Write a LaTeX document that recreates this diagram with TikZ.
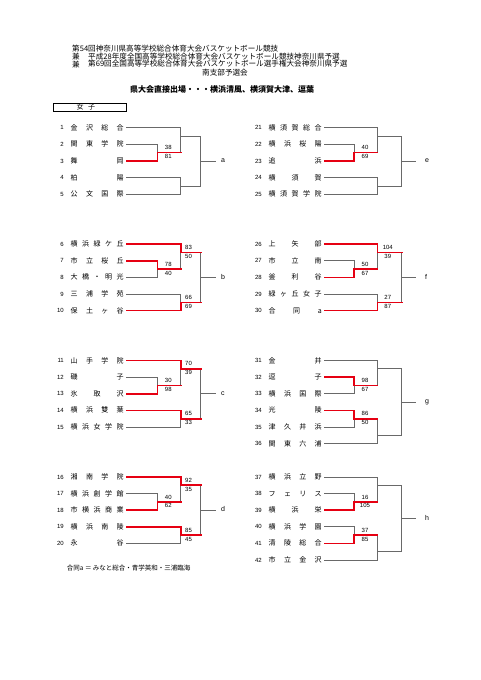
\documentclass[tikz,border=0pt]{standalone}
\usepackage{fontspec}
\setmainfont{Noto Sans CJK JP}
\newfontfamily\latf{Liberation Sans}
\usetikzlibrary{calc}
\definecolor{rd}{RGB}{230,0,18}
\definecolor{gy}{RGB}{105,105,105}
\newcommand\RY[1]{127.7+16.63*(#1)}
\newcommand\team[4]{%
  \node[numst] (n#1) at ({#2-4},{\RY{#3}}) {#1};
  \node[namest] (t#1) at (#2,{\RY{#3}}) {\makebox[53pt][s]{#4}};}
\newcommand\score[4]{%
  \node[scst] (#1u) at ($(#1)+(#2,-5)$) {#3};
  \node[scst] (#1d) at ($(#1)+(#2,3.8)$) {#4};}
\newcommand\jc[3]{\coordinate (#1) at (#2,{\RY{#3}});}
\begin{document}
\begin{tikzpicture}[x=1pt,y=-1pt,
  gl/.style={draw=gy, line width=0.75pt},
  rl/.style={draw=rd, line width=1.6pt, line cap=rect},
  numst/.style={anchor=east, inner sep=0pt, text height=4.3pt, text depth=0pt, font=\latf\fontsize{6}{7}\selectfont},
  namest/.style={anchor=west, inner xsep=2.5pt, inner ysep=0pt, text height=6pt, text depth=1pt, font=\fontsize{7}{8}\selectfont},
  scst/.style={inner sep=0pt, text height=4.3pt, text depth=0pt, font=\latf\fontsize{6}{7}\selectfont},
  labl/.style={anchor=west, inner xsep=5.3pt, inner ysep=0pt, text height=3.6pt, text depth=0pt, font=\latf\fontsize{7}{8}\selectfont},
  labr/.style={anchor=west, inner xsep=8.8pt, inner ysep=0pt, text height=3.6pt, text depth=0pt, font=\latf\fontsize{7}{8}\selectfont},
  ttl/.style={anchor=west, inner sep=0pt, font=\fontsize{7.6}{8}\selectfont}]
\useasboundingbox (0,0) rectangle (481,680);
\fill[white] (0,0) rectangle (481,680);

% titles
\node[ttl] (h1) at (72,48.5) {第54回神奈川県高等学校総合体育大会バスケットボール競技};
\node[ttl] (h2a) at (72,56.3) {兼};
\node[ttl] (h2) at (88,56.3) {平成28年度全国高等学校総合体育大会バスケットボール競技神奈川県予選};
\node[ttl] (h3a) at (72,64.1) {兼};
\node[ttl] (h3) at (88,64.1) {第69回全国高等学校総合体育大会バスケットボール選手権大会神奈川県予選};
\node[ttl, anchor=center] (h4) at (225,72.5) {南支部予選会};
\node[inner sep=0pt, font=\bfseries\fontsize{8}{9}\selectfont] (h5) at (222,89.5) {県大会直接出場・・・横浜清風、横須賀大津、逗葉};
\node[draw, line width=0.8pt, minimum width=73pt, minimum height=8.3pt, inner sep=0pt, anchor=north west] (girls) at (53,102.7) {};
\node[inner sep=0pt, font=\fontsize{7}{8}\selectfont] (girlst) at (85.8,107) {女\hspace{4.5pt}子};

% teams left
\team{1}{68}{0}{金\hfill 沢\hfill 総\hfill 合}
\team{2}{68}{1}{関\hfill 東\hfill 学\hfill 院}
\team{3}{68}{2}{舞\hfill 岡}
\team{4}{68}{3}{柏\hfill 陽}
\team{5}{68}{4}{公\hfill 文\hfill 国\hfill 際}
\team{6}{68}{7}{横\hfill 浜\hfill 緑\hfill ケ\hfill 丘}
\team{7}{68}{8}{市\hfill 立\hfill 桜\hfill 丘}
\team{8}{68}{9}{大\hfill 橋\hfill ・\hfill 明\hfill 光}
\team{9}{68}{10}{三\hfill 浦\hfill 学\hfill 苑}
\team{10}{68}{11}{保\hfill 土\hfill ヶ\hfill 谷}
\team{11}{68}{14}{山\hfill 手\hfill 学\hfill 院}
\team{12}{68}{15}{磯\hfill 子}
\team{13}{68}{16}{氷\hfill 取\hfill 沢}
\team{14}{68}{17}{横\hfill 浜\hfill 雙\hfill 葉}
\team{15}{68}{18}{横\hfill 浜\hfill 女\hfill 学\hfill 院}
\team{16}{68}{21}{湘\hfill 南\hfill 学\hfill 院}
\team{17}{68}{22}{横\hfill 浜\hfill 創\hfill 学\hfill 館}
\team{18}{68}{23}{市\hfill 横\hfill 浜\hfill 商\hfill 業}
\team{19}{68}{24}{横\hfill 浜\hfill 南\hfill 陵}
\team{20}{68}{25}{永\hfill 谷}
% teams right
\team{21}{266}{0}{横\hfill 須\hfill 賀\hfill 総\hfill 合}
\team{22}{266}{1}{横\hfill 浜\hfill 桜\hfill 陽}
\team{23}{266}{2}{追\hfill 浜}
\team{24}{266}{3}{横\hfill 須\hfill 賀}
\team{25}{266}{4}{横\hfill 須\hfill 賀\hfill 学\hfill 院}
\team{26}{266}{7}{上\hfill 矢\hfill 部}
\team{27}{266}{8}{市\hfill 立\hfill 南}
\team{28}{266}{9}{釜\hfill 利\hfill 谷}
\team{29}{266}{10}{緑\hfill ヶ\hfill 丘\hfill 女\hfill 子}
\team{30}{266}{11}{合\hfill 同\hfill a}
\team{31}{266}{14}{金\hfill 井}
\team{32}{266}{15}{逗\hfill 子}
\team{33}{266}{16}{横\hfill 浜\hfill 国\hfill 際}
\team{34}{266}{17}{光\hfill 陵}
\team{35}{266}{18}{津\hfill 久\hfill 井\hfill 浜}
\team{36}{266}{19}{関\hfill 東\hfill 六\hfill 浦}
\team{37}{266}{21}{横\hfill 浜\hfill 立\hfill 野}
\team{38}{266}{22}{フ\hfill ェ\hfill リ\hfill ス}
\team{39}{266}{23}{横\hfill 浜\hfill 栄}
\team{40}{266}{24}{横\hfill 浜\hfill 学\hfill 園}
\team{41}{266}{25}{清\hfill 陵\hfill 総\hfill 合}
\team{42}{266}{26}{市\hfill 立\hfill 金\hfill 沢}

% junctions
\def\XA{157.3}\def\XB{180.7}\def\XC{200.7}
\def\RA{354}\def\RB{377.3}\def\RC{401.7}
\jc{J23}{\XA}{1.5}\jc{K1}{\XB}{0.5}\jc{J45}{\XB}{3.5}\jc{Fa}{\XC}{2}
\jc{J78}{\XA}{8.5}\jc{K6}{\XB}{7.5}\jc{J910}{\XB}{10.5}\jc{Fb}{\XC}{9}
\jc{J1213}{\XA}{15.5}\jc{K11}{\XB}{14.5}\jc{J1415}{\XB}{17.5}\jc{Fc}{\XC}{16}
\jc{J1718}{\XA}{22.5}\jc{K16}{\XB}{21.5}\jc{J1920}{\XB}{24.5}\jc{Fd}{\XC}{23}
\jc{J2223}{\RA}{1.5}\jc{K21}{\RB}{0.5}\jc{J2425}{\RB}{3.5}\jc{Fe}{\RC}{2}
\jc{J2728}{\RA}{8.5}\jc{K26}{\RB}{7.5}\jc{J2930}{\RB}{10.5}\jc{Ff}{\RC}{9}
\jc{J3233}{\RA}{15.5}\jc{K31}{\RB}{14.5}\jc{J3435}{\RA}{17.5}\jc{K36}{\RB}{18.5}\jc{Fg}{\RC}{16.5}
\jc{J3839}{\RA}{22.5}\jc{K37}{\RB}{21.5}\jc{J4041}{\RA}{24.5}\jc{K42}{\RB}{25.5}\jc{Fh}{\RC}{23.5}

% labels
\node[labl] (La) at (215.7,{\RY{2}}) {a};
\node[labl] (Lb) at (215.7,{\RY{9}}) {b};
\node[labl] (Lc) at (215.7,{\RY{16}}) {c};
\node[labl] (Ld) at (215.7,{\RY{23}}) {d};
\node[labr] (Le) at (416,{\RY{2}}) {e};
\node[labr] (Lf) at (416,{\RY{9}}) {f};
\node[labr] (Lg) at (416,{\RY{16.5}}) {g};
\node[labr] (Lh) at (416,{\RY{23.5}}) {h};

% gray lines
\foreach \a/\b in {t1.east/K1, t2.east/J23, t3.east/J23, J23/K1, t4.east/J45, t5.east/J45, K1/Fa, J45/Fa,
  t6.east/K6, t7.east/J78, t8.east/J78, J78/K6, t9.east/J910, t10.east/J910, K6/Fb, J910/Fb,
  t11.east/K11, t12.east/J1213, t13.east/J1213, J1213/K11, t14.east/J1415, t15.east/J1415, K11/Fc, J1415/Fc,
  t16.east/K16, t17.east/J1718, t18.east/J1718, J1718/K16, t19.east/J1920, t20.east/J1920, K16/Fd, J1920/Fd,
  t21.east/K21, t22.east/J2223, t23.east/J2223, J2223/K21, t24.east/J2425, t25.east/J2425, K21/Fe, J2425/Fe,
  t26.east/K26, t27.east/J2728, t28.east/J2728, J2728/K26, t29.east/J2930, t30.east/J2930, K26/Ff, J2930/Ff,
  t31.east/K31, t32.east/J3233, t33.east/J3233, J3233/K31, t34.east/J3435, t35.east/J3435, J3435/K36, t36.east/K36, K31/Fg, K36/Fg,
  t37.east/K37, t38.east/J3839, t39.east/J3839, J3839/K37, t40.east/J4041, t41.east/J4041, J4041/K42, t42.east/K42, K37/Fh, K42/Fh}
  \draw[gl] (\a) -| (\b);
\foreach \f/\l in {Fa/La, Fb/Lb, Fc/Lc, Fd/Ld, Fe/Le, Ff/Lf, Fg/Lg, Fh/Lh}
  \draw[gl] (\f) -- (\l.west);

% red winner paths (full corner)
\foreach \a/\b in {t3.east/J23, t7.east/J78, t6.east/K6, t10.east/J910,
  t13.east/J1213, t11.east/K11, t14.east/J1415,
  t18.east/J1718, t16.east/K16, t19.east/J1920,
  t23.east/J2223, t28.east/J2728, t26.east/K26, t30.east/J2930,
  t32.east/J3233, t34.east/J3435, t39.east/J3839, t41.east/J4041}
  \draw[rl] (\a) -| (\b);
% red horizontal only
\foreach \a/\b in {J23/K1, J78/K6, K6/Fb, J910/Fb, J1213/K11, K11/Fc, J1415/Fc,
  J1718/K16, K16/Fd, J1920/Fd, J2223/K21, J2728/K26, K26/Ff, J2930/Ff,
  J3233/K31, J3435/K36, J3839/K37, J4041/K42}
  \draw[rl] (\a) -- (\a -| \b);

% scores
\score{J23}{11}{38}{81}
\score{J78}{11}{78}{40}\score{K6}{7.8}{83}{50}\score{J910}{7.8}{66}{69}
\score{J1213}{11}{30}{98}\score{K11}{7.8}{70}{39}\score{J1415}{7.8}{65}{33}
\score{J1718}{11}{40}{62}\score{K16}{7.8}{92}{35}\score{J1920}{7.8}{85}{45}
\score{J2223}{11}{40}{69}
\score{J2728}{11}{50}{67}\score{K26}{10.5}{104}{39}\score{J2930}{10.5}{27}{87}
\score{J3233}{11}{98}{67}\score{J3435}{11}{86}{50}
\score{J3839}{11}{16}{105}\score{J4041}{11}{37}{85}

\node[anchor=west, inner sep=0pt, font=\fontsize{6.5}{7}\selectfont] (note) at (66.7,568.3) {合同a ＝ みなと総合・青学英和・三浦臨海};
\end{tikzpicture}
\end{document}
